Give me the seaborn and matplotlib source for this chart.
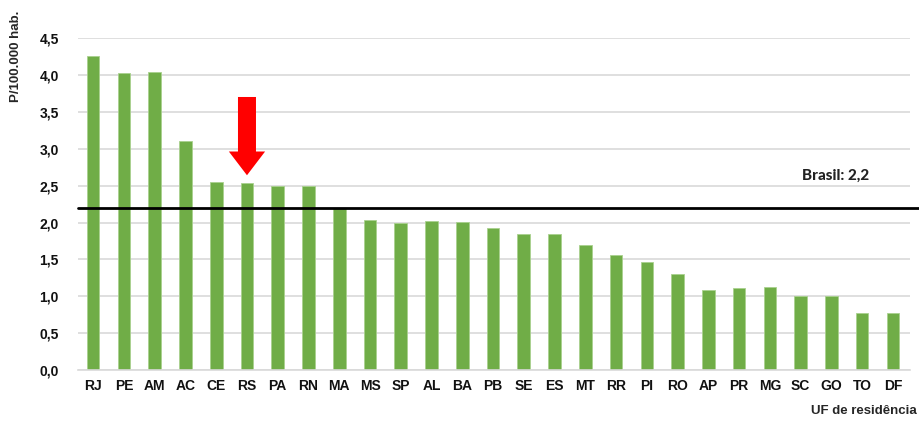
import pandas as pd
import seaborn as sns
import matplotlib.pyplot as plt

# dados
ufs = ['RJ', 'PE', 'AM', 'AC', 'CE', 'RS', 'PA', 'RN', 'MA', 'MS', 'SP', 'AL', 'BA', 'PB',
       'SE', 'ES', 'MT', 'RR', 'PI', 'RO', 'AP', 'PR', 'MG', 'SC', 'GO', 'TO', 'DF']
taxas = [4.26, 4.02, 4.04, 3.10, 2.55, 2.54, 2.50, 2.50, 2.20, 2.04, 2.00, 2.02, 2.01, 1.92,
         1.85, 1.84, 1.69, 1.56, 1.47, 1.30, 1.08, 1.11, 1.12, 1.00, 1.01, 0.77, 0.77]
brasil = 2.2
y_ticks = [0, 0.5, 1, 1.5, 2, 2.5, 3, 3.5, 4, 4.5]
y_labels = ['0,0', '0,5', '1,0', '1,5', '2,0', '2,5', '3,0', '3,5', '4,0', '4,5']
destaque = 'RS'

df = pd.DataFrame({'UF': ufs, 'Taxa': taxas})

sns.set_style('white')
plt.rcParams['font.family'] = ['Liberation Sans', 'DejaVu Sans']

fig = plt.figure(figsize=(9.19, 4.26), dpi=100)
ax = fig.add_axes([0.085, 0.131, 0.905, 0.78])

sns.barplot(data=df, x='UF', y='Taxa', color='#70ad47', width=0.41, saturation=1,
            edgecolor='#a9d18e', linewidth=0.6, ax=ax, zorder=2)

ax.set_ylim(0, 4.5)
ax.set_xlim(-0.49, 26.55)
ax.set_yticks(y_ticks)
ax.set_yticklabels(y_labels, fontsize=10, fontweight='bold')
ax.tick_params(axis='x', labelsize=10, length=0, pad=6, labelcolor='#111111')
ax.tick_params(axis='y', length=0, pad=14, labelcolor='#111111')
for t in ax.get_xticklabels():
    t.set_fontweight('bold')
ax.yaxis.grid(True, color='#d9d9d9', linewidth=1.2, zorder=0)
ax.set_axisbelow(True)
for s in ['top', 'right', 'left']:
    ax.spines[s].set_visible(False)
ax.spines['bottom'].set_color('#d9d9d9')
ax.spines['bottom'].set_linewidth(1.2)

ax.set_xlabel('')
ax.set_ylabel('')
fig.text(0.017, 0.975, 'P/100.000 hab.', rotation=90, ha='center', va='top',
         fontsize=9.5, fontweight='bold')
fig.text(0.998, 0.02, 'UF de residência', ha='right', va='bottom',
         fontsize=9.5, fontweight='bold')

# linha da média Brasil
ax.plot([-0.49, 26.85], [brasil, brasil], color='black', linewidth=2, clip_on=False, zorder=3)
ax.text(24.15, brasil + 0.43, 'Brasil: 2,2', ha='center', va='center', fontsize=11,
        fontweight='black', family=['Lato', 'DejaVu Sans'], color='#222222')

# seta vermelha no RS
i = ufs.index(destaque)
ax.annotate('', xy=(i, 2.64), xytext=(i, 3.70),
            arrowprops=dict(arrowstyle='simple,head_length=0.95,head_width=1.45,tail_width=0.72',
                            mutation_scale=18, color='#ff0000', lw=0, shrinkA=0, shrinkB=0))

plt.savefig('out.png', dpi=100)
